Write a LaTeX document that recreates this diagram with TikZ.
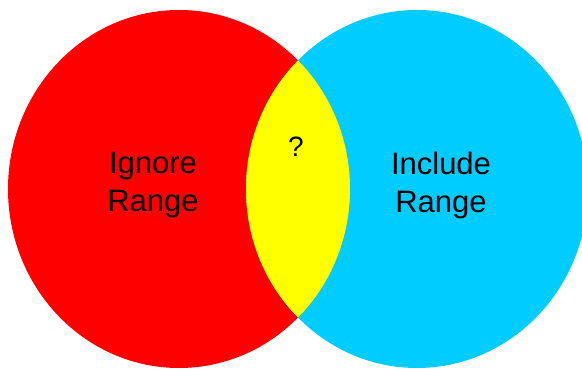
\documentclass[tikz,border=0pt]{standalone}
\usepackage{fontspec}
\setmainfont{Liberation Sans}
\definecolor{vred}{HTML}{FF0000}
\definecolor{vcyan}{HTML}{00CCFF}
\definecolor{vyellow}{HTML}{FFFF00}
\begin{document}
\begin{tikzpicture}[x=1pt,y=1pt,
  lbl/.style={align=center,font=\fontsize{31}{38}\selectfont,text=black,inner sep=0pt}]
\useasboundingbox (0,0) rectangle (582,369);
\clip (0,0) rectangle (582,369);
\coordinate (cr) at (179,180);
\coordinate (cc) at (417,180);
\fill[vred] (cr) ellipse [x radius=171, y radius=179];
\fill[vcyan] (cc) ellipse [x radius=171, y radius=179];
\begin{scope}
  \clip (cr) ellipse [x radius=171, y radius=179];
  \fill[vyellow] (cc) ellipse [x radius=171, y radius=179];
\end{scope}
\node[lbl] (ign) at (153,184) {Ignore\\Range};
\node[lbl] (inc) at (441,184) {Include\\Range};
\node[lbl,font=\fontsize{28}{34}\selectfont] (q) at (296,222) {?};
\end{tikzpicture}
\end{document}
